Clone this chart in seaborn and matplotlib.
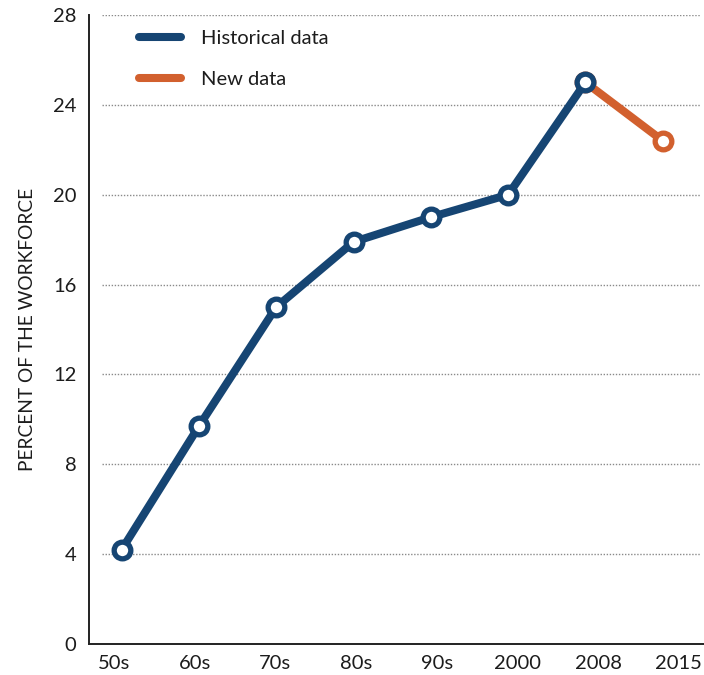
import numpy as np
import pandas as pd
import matplotlib
matplotlib.use("Agg")
import matplotlib.pyplot as plt
from matplotlib.lines import Line2D
import seaborn as sns

# data
periods = ["50s", "60s", "70s", "80s", "90s", "2000", "2008", "2015"]
historical = [4.2, 9.7, 15.0, 17.9, 19.0, 20.0, 25.0]   # 50s .. 2008
new_data = [25.0, 22.4]                                 # 2008 .. 2015
y_ticks = [0, 4, 8, 12, 16, 20, 24, 28]

BLUE = "#164573"
ORANGE = "#d2602e"
TEXT = "#1c1c1c"

sns.set_style("white")
plt.rcParams["font.family"] = ["Lato", "DejaVu Sans"]

hist_df = pd.DataFrame({"pos": np.arange(len(historical)), "value": historical})
new_df = pd.DataFrame({"pos": np.arange(len(historical) - 1, len(periods)), "value": new_data})

fig = plt.figure(figsize=(7.04, 6.75), dpi=100)
ax = fig.add_axes([0.1264, 0.0459, 0.8736, 0.9319])

marker_kw = dict(marker="o", markersize=12, markerfacecolor="white",
                 markeredgewidth=3.8, linewidth=5.8, solid_capstyle="round")

# new data first so the 2008 blue marker sits on top of it
sns.lineplot(data=new_df, x="pos", y="value", color=ORANGE, markeredgecolor=ORANGE,
             ax=ax, zorder=3, **marker_kw)
sns.lineplot(data=hist_df, x="pos", y="value", color=BLUE, markeredgecolor=BLUE,
             ax=ax, zorder=4, **marker_kw)

ax.set_xlim(-0.423, 7.533)
ax.set_ylim(0, 28)

# dotted gridlines, starting a little right of the spine
ax.hlines(y_ticks[1:], 0.021, 0.993, transform=ax.get_yaxis_transform(),
          colors="#8a8a8a", linestyles=(0, (1, 1.2)), linewidth=1.0, zorder=1)

# category labels sit on a slightly wider grid than the points
step = 1.044
ax.set_xticks([-0.1 + step * i for i in range(len(periods))])
ax.set_xticklabels(periods)
ax.set_xticks([0.418 + step * i for i in range(len(periods) - 1)], minor=True)
ax.tick_params(axis="x", which="major", length=0, pad=8, labelsize=14.5, labelcolor=TEXT)
ax.tick_params(axis="x", which="minor", direction="in", length=12.5, width=1.4, color="#222222")

ax.set_yticks(y_ticks)
ax.tick_params(axis="y", length=0, pad=9, labelsize=14.5, labelcolor=TEXT)

ax.set_xlabel("")
ax.set_ylabel("PERCENT OF THE WORKFORCE", fontsize=13.8, color=TEXT, labelpad=12)

for side in ["top", "right"]:
    ax.spines[side].set_visible(False)
for side in ["left", "bottom"]:
    ax.spines[side].set_color("#222222")
    ax.spines[side].set_linewidth(1.4)

handles = [
    Line2D([], [], color=BLUE, linewidth=5.8, solid_capstyle="round"),
    Line2D([], [], color=ORANGE, linewidth=5.8, solid_capstyle="round"),
]
ax.legend(handles, ["Historical data", "New data"], loc="upper left",
          bbox_to_anchor=(0.052, 1.005), frameon=False, fontsize=14.5,
          handlelength=2.1, handletextpad=0.95, labelspacing=1.2, labelcolor=TEXT)

fig.savefig("out.png", dpi=100)
